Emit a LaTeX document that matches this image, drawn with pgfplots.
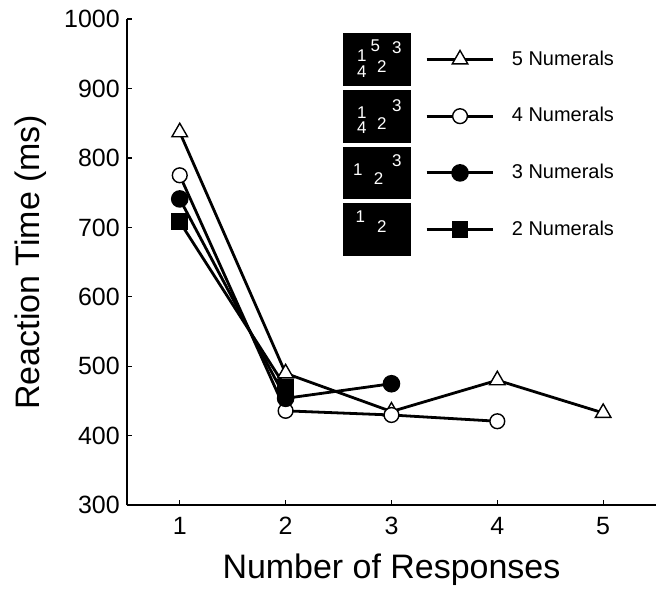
\documentclass[border=0pt]{standalone}
\usepackage{fontspec}
\setmainfont{Liberation Sans}
\usepackage{pgfplots}
\pgfplotsset{compat=1.18}

% black icon behind each legend line, digits placed by hand
\newcommand{\digitbox}[1]{%
  \fill[black] (-41pt,-12.5pt) rectangle (-8.5pt,12.5pt);
  \begin{scope}[every node/.style={text=white,inner sep=0pt,font=\fontsize{8.5}{8.5}\selectfont}]
  #1
  \end{scope}}
\newcommand{\legline}[1]{%
  \draw[mark repeat=2,mark phase=2,#1] plot coordinates {(0pt,0pt) (16.75pt,0pt) (33.5pt,0pt)};}

\pgfplotsset{
  leg5/.style={legend image code/.code={\digitbox{
    \node at (-34.8pt,2pt) {1}; \node at (-34.8pt,-6pt) {4};
    \node at (-28pt,7pt) {5}; \node at (-24.75pt,-3.5pt) {2};
    \node at (-17.3pt,6pt) {3};}\legline{##1}}},
  leg4/.style={legend image code/.code={\digitbox{
    \node at (-34.8pt,1.75pt) {1}; \node at (-34.8pt,-6pt) {4};
    \node at (-24.75pt,-3.5pt) {2}; \node at (-17.3pt,5.5pt) {3};}\legline{##1}}},
  leg3/.style={legend image code/.code={\digitbox{
    \node at (-36.8pt,1.75pt) {1}; \node at (-26.4pt,-3pt) {2};
    \node at (-17.3pt,6.3pt) {3};}\legline{##1}}},
  leg2/.style={legend image code/.code={\digitbox{
    \node at (-35.5pt,6.5pt) {1}; \node at (-24.75pt,1.5pt) {2};}\legline{##1}}},
}

\begin{document}
\begin{tikzpicture}
\begin{axis}[
    scale only axis,
    width=265pt, height=243.5pt,
    xmin=0.5, xmax=5.5,
    ymin=300, ymax=1000,
    clip=false,
    xtick={1,2,3,4,5},
    ytick={300,400,...,1000},
    axis lines=left,
    axis line style={-, line width=0.9pt},
    tick align=inside,
    major tick length=2.7pt,
    tick style={line width=0.6pt, black},
    /pgf/number format/assume math mode=true,
    /pgf/number format/set thousands separator={},
    tick label style={font=\fontsize{12.5}{13}\selectfont},
    xticklabel style={yshift=-2.5pt},
    xlabel={Number of Responses},
    ylabel={Reaction Time (ms)},
    xlabel style={font=\fontsize{17}{18}\selectfont},
    ylabel style={font=\fontsize{17}{18}\selectfont},
    xlabel shift=2.5pt,
    ylabel shift=2pt,
    legend style={draw=none, fill=none, at={(0.409,0.971)}, anchor=north west,
      inner sep=0pt, outer sep=0pt, row sep=2pt, column sep=8.5pt,
      nodes={inner sep=0pt}, font=\fontsize{10}{11}\selectfont},
    legend cell align=left,
    every axis plot/.append style={line width=1.4pt, black},
]
\path (axis description cs:-0.2396,-0.1622) rectangle (axis description cs:1.0,1.039);

\addplot[leg5, mark=triangle*, mark size=4.5pt, mark options={fill=white, line width=0.7pt}]
  coordinates {(1,837) (2,490) (3,435) (4,480) (5,433)};
\addlegendentry{5 Numerals}

\addplot[leg4, mark=*, mark size=3.7pt, mark options={fill=white, line width=0.7pt}]
  coordinates {(1,775) (2,436) (3,430) (4,421)};
\addlegendentry{4 Numerals}

\addplot[leg3, mark=*, mark size=3.7pt, mark options={fill=black}]
  coordinates {(1,741) (2,454) (3,475)};
\addlegendentry{3 Numerals}

\addplot[leg2, mark=square*, mark size=3.5pt, mark options={fill=black}]
  coordinates {(1,708) (2,470)};
\addlegendentry{2 Numerals}
\end{axis}
\end{tikzpicture}
\end{document}
